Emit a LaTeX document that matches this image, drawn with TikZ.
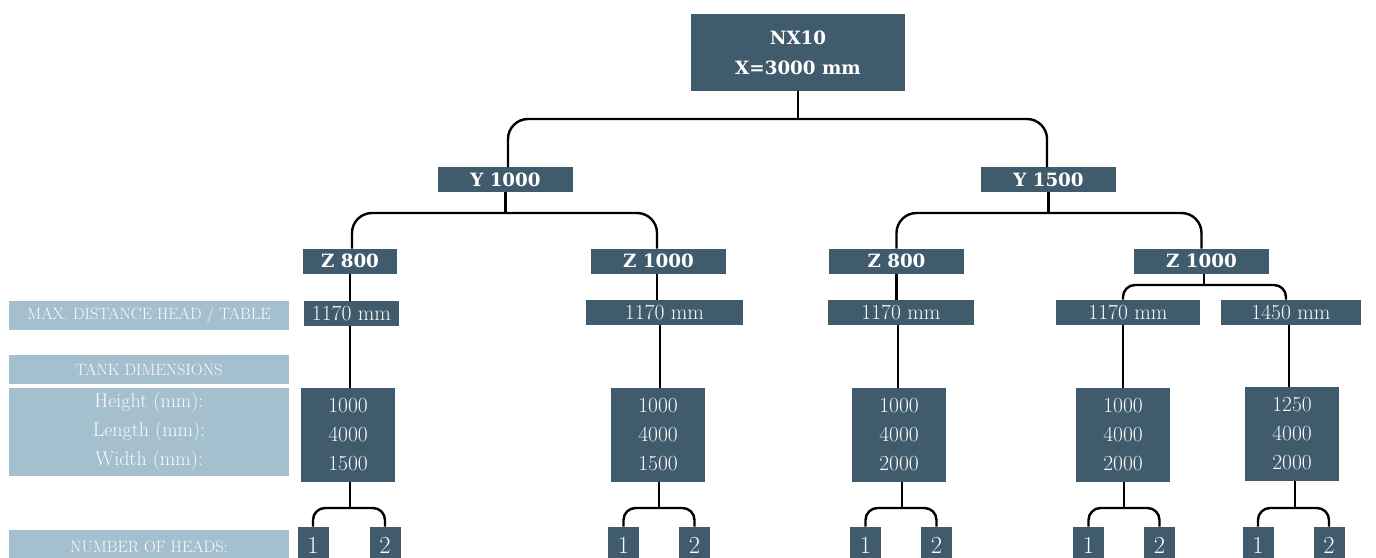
\documentclass[tikz,border=0pt]{standalone}
\usepackage{fontspec}
\newfontfamily\slab{DejaVu Serif}
\definecolor{boxdark}{RGB}{63,91,108}
\definecolor{boxlight}{RGB}{164,191,205}
\definecolor{lighttext}{RGB}{250,251,252}
\begin{document}
\begin{tikzpicture}[x=1pt,y=-1pt,
  dark/.style={fill=boxdark, text=white, inner sep=0pt, outer sep=0pt, align=center},
  lightbox/.style={fill=boxlight, text=lighttext, inner sep=0pt, outer sep=0pt, align=center, minimum width=280, font=\fontsize{16.4}{29}\selectfont},
  bftext/.style={font=\slab\bfseries\fontsize{18.3}{30}\selectfont},
  numtext/.style={font=\fontsize{21.5}{29}\selectfont, text=lighttext},
  headtext/.style={font=\fontsize{24.5}{25}\selectfont, text=lighttext},
  ybox/.style={dark, bftext, minimum width=135, minimum height=25},
  dbox/.style={dark, numtext, minimum height=25},
  tbox/.style={dark, numtext, minimum width=94, minimum height=94},
  hbox/.style={dark, headtext, minimum width=31, minimum height=38},
  conn/.style={line width=2.4pt, black},
  branch/.style={conn, rounded corners=20},
  hbranch/.style={conn, rounded corners=12}
]
\useasboundingbox (0,0) rectangle (1376,557);

% top
\node[dark, bftext, minimum width=214, minimum height=77] (top) at (798,52.5) {NX10\\X=3000 mm};
\node[ybox] (y1) at (505.5,179.5) {Y 1000};
\node[ybox] (y2) at (1048.5,179.5) {Y 1500};

\node[ybox, minimum width=94] (z1) at (350,261) {Z 800};
\node[ybox] (z2) at (658.5,261) {Z 1000};
\node[ybox] (z3) at (896.5,261) {Z 800};
\node[ybox] (z4) at (1201.5,261) {Z 1000};

\node[dbox, minimum width=95] (d1) at (351.5,313) {1170 mm};
\node[dbox, minimum width=157] (d2) at (664.5,312.5) {1170 mm};
\node[dbox, minimum width=146] (d3) at (901,312) {1170 mm};
\node[dbox, minimum width=144] (d4) at (1128,312) {1170 mm};
\node[dbox, minimum width=140] (d5) at (1291,312) {1450 mm};

\node[tbox] (t1) at (348,435) {1000\\4000\\1500};
\node[tbox] (t2) at (658,435) {1000\\4000\\1500};
\node[tbox] (t3) at (899,435) {1000\\4000\\2000};
\node[tbox] (t4) at (1123,435) {1000\\4000\\2000};
\node[tbox] (t5) at (1292,434) {1250\\4000\\2000};

\foreach \i/\a/\b in {1/313/385, 2/623.5/694.5, 3/865.5/936.5, 4/1088.5/1159.5, 5/1258/1329}{
  \node[hbox] (h\i a) at (\a,545.5) {1};
  \node[hbox] (h\i b) at (\b,545.5) {2};
}

% labels
\node[lightbox, minimum height=29] (l1) at (149,315.5) {MAX. DISTANCE HEAD / TABLE};
\node[lightbox, minimum height=29] (l2) at (149,369.5) {TANK DIMENSIONS};
\node[lightbox, minimum height=88, font=\fontsize{20}{29}\selectfont] (l3) at (149,432) {Height (mm):\\Length (mm):\\Width (mm):};
\node[lightbox, minimum height=34] (l4) at (149,547) {NUMBER OF HEADS:};

% connectors level 1
\coordinate (b0) at (798,119);
\draw[conn] (top.south) -- (b0);
\draw[branch] ([xshift=2.5]y1.north) |- (b0) -| ([xshift=-1.5]y2.north);

% level 2
\coordinate (b1) at (505.5,213);
\draw[conn] (y1.south) -- (b1);
\draw[branch] ([xshift=2]z1.north) |- (b1) -| ([xshift=-1.5]z2.north);
\coordinate (b2) at (1048.5,213);
\draw[conn] (y2.south) -- (b2);
\draw[branch] (z3.north) |- (b2) -| (z4.north);

% Z to distance
\draw[conn] (z1.south) -- (z1.south |- d1.north);
\draw[conn] ([xshift=-1.5]z2.south) -- ([xshift=-1.5]z2.south |- d2.north);
\draw[conn] (z3.south) -- (z3.south |- d3.north);
\coordinate (b3) at (1204,285);
\draw[conn] ([xshift=2.5]z4.south) -- (b3);
\draw[hbranch] ([xshift=-5]d4.north) |- (b3) -| ([xshift=-5]d5.north);

% distance to tank
\draw[conn] ([xshift=2]t1.north) -- ([xshift=2]t1.north |- d1.south);
\draw[conn] ([xshift=2]t2.north) -- ([xshift=2]t2.north |- d2.south);
\draw[conn] ([xshift=-1]t3.north) -- ([xshift=-1]t3.north |- d3.south);
\draw[conn] (t4.north) -- (t4.north |- d4.south);
\draw[conn] ([xshift=-3]t5.north) -- ([xshift=-3]t5.north |- d5.south);

% tank to heads
\foreach \i/\dx in {1/2, 2/1, 3/3, 4/1, 5/3}{
  \coordinate (j\i) at ([xshift=\dx]t\i.south |- 0,508);
  \draw[conn] ([xshift=\dx]t\i.south) -- (j\i);
  \draw[hbranch] (h\i a.north) |- (j\i) -| (h\i b.north);
}
\end{tikzpicture}
\end{document}
